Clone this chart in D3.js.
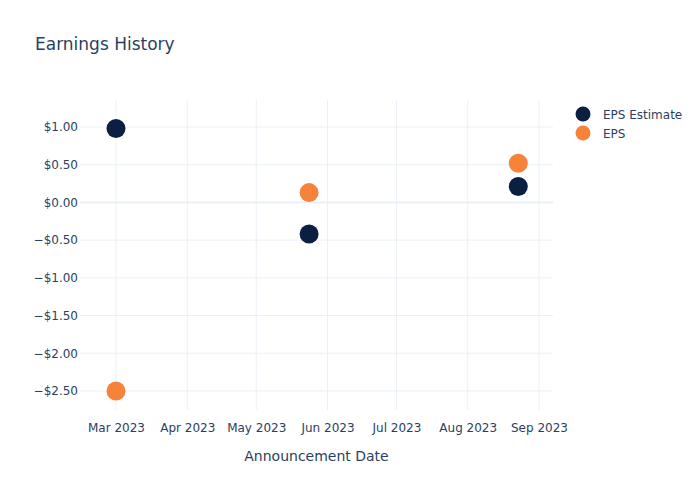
<!DOCTYPE html>
<html>
<head>
<meta charset="utf-8">
<script src="https://cdn.jsdelivr.net/npm/d3@7"></script>
<style>
  html, body { margin: 0; padding: 0; background: #fff; }
  text { font-family: "DejaVu Sans", Verdana, sans-serif; fill: #2a3f5f; }
</style>
</head>
<body>
<svg id="chart" width="700" height="500"></svg>
<script>
const dates = ["2023-03-01", "2023-05-24", "2023-08-23"];
const epsEstimate = [0.98, -0.42, 0.21];
const epsActual = [-2.50, 0.13, 0.52];
const yTicks = [-2.5, -2, -1.5, -1, -0.5, 0, 0.5, 1];
const xTickMonths = ["2023-03-01", "2023-04-01", "2023-05-01", "2023-06-01", "2023-07-01", "2023-08-01", "2023-09-01"];
const seriesNames = ["EPS Estimate", "EPS"];
const seriesColors = ["#0b1f42", "#f7833a"];

const svg = d3.select("#chart");
const W = 700, H = 500;
const m = { l: 80, r: 147, t: 100, b: 90 };
const pw = W - m.l - m.r, ph = H - m.t - m.b;

const parse = d3.timeParse("%Y-%m-%d");
const DAY = 86400000;
const x0 = parse("2023-03-01").getTime();
const x = d3.scaleTime()
  .domain([new Date(x0 - 15.66 * DAY), new Date(x0 + 190.1 * DAY)])
  .range([m.l, m.l + pw]);
const y = d3.scaleLinear().domain([-2.753, 1.358]).range([m.t + ph, m.t]);

// Title
svg.append("text").attr("x", 35).attr("y", 50).attr("font-size", 17).text("Earnings History");

// Grid
const g = svg.append("g");
const xt = xTickMonths.map(parse);
g.selectAll(".vg").data(xt).join("line")
  .attr("x1", d => x(d)).attr("x2", d => x(d))
  .attr("y1", m.t).attr("y2", m.t + ph)
  .attr("stroke", "#ebf0f8").attr("stroke-width", 1);
g.selectAll(".hg").data(yTicks).join("line")
  .attr("x1", m.l).attr("x2", m.l + pw)
  .attr("y1", d => y(d)).attr("y2", d => y(d))
  .attr("stroke", "#ebf0f8").attr("stroke-width", d => d === 0 ? 2 : 1);

// Axes via d3 axis
const fmtY = v => (v < 0 ? "\u2212" : "") + "$" + Math.abs(v).toFixed(2);
const yAxis = d3.axisLeft(y).tickValues(yTicks).tickFormat(fmtY).tickSize(0).tickPadding(2);
const ya = svg.append("g").attr("transform", `translate(${m.l},0)`).call(yAxis);
ya.select(".domain").remove();
ya.selectAll("text").attr("font-size", 12).attr("fill", "#2a3f5f").style("font-family", '"DejaVu Sans", Verdana, sans-serif');

const xAxis = d3.axisBottom(x).tickValues(xt).tickFormat(d3.timeFormat("%b %Y")).tickSize(0).tickPadding(13);
const xa = svg.append("g").attr("transform", `translate(0,${m.t + ph})`).call(xAxis);
xa.select(".domain").remove();
xa.selectAll("text").attr("font-size", 12).attr("fill", "#2a3f5f").style("font-family", '"DejaVu Sans", Verdana, sans-serif');

svg.append("text").attr("x", m.l + pw / 2).attr("y", 461).attr("text-anchor", "middle")
  .attr("font-size", 14).text("Announcement Date");

// Points
const series = [epsEstimate, epsActual];
series.forEach((vals, si) => {
  svg.append("g").selectAll("circle").data(vals).join("circle")
    .attr("cx", (d, i) => x(parse(dates[i])))
    .attr("cy", d => y(d))
    .attr("r", 9.5)
    .attr("fill", seriesColors[si]);
});

// Legend
const lg = svg.append("g");
seriesNames.forEach((name, i) => {
  const ly = 114 + i * 19;
  lg.append("circle").attr("cx", 583).attr("cy", ly).attr("r", 7.5).attr("fill", seriesColors[i]);
  lg.append("text").attr("x", 603).attr("y", ly + 4.5).attr("font-size", 12).text(name);
});
</script>
</body>
</html>
